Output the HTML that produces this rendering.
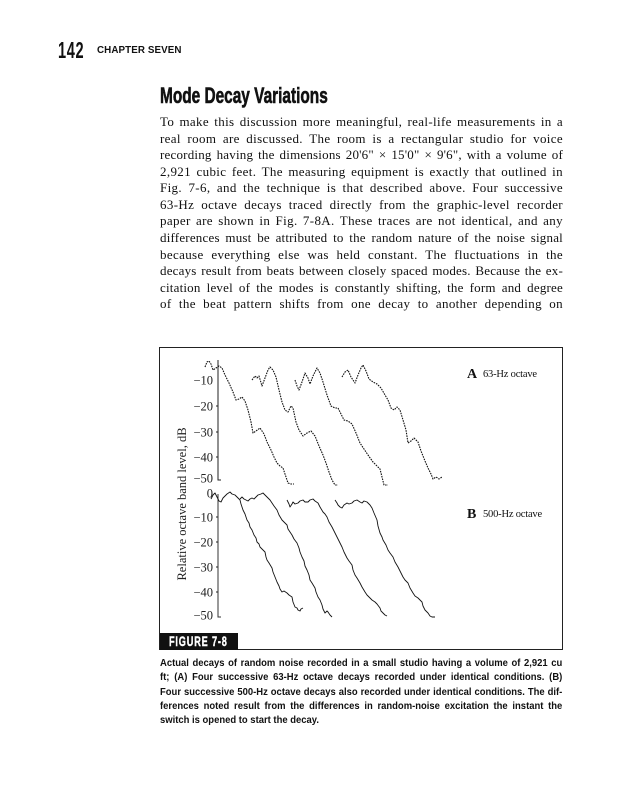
<!DOCTYPE html>
<html><head><meta charset="utf-8">
<style>
html,body{margin:0;padding:0;background:#fff;}
body{width:639px;height:800px;position:relative;overflow:hidden;}
.abs{position:absolute;}
.pn{left:58px;top:39px;font:bold 23.5px "Liberation Sans",sans-serif;transform:scaleX(0.62);transform-origin:0 0;letter-spacing:1px;color:#111;line-height:1;}
.ch{left:97px;top:46px;font:bold 9.8px "Liberation Sans",sans-serif;color:#111;line-height:1;letter-spacing:0.1px;}
.hd{left:160px;top:85.4px;font:bold 22px "Liberation Sans",sans-serif;line-height:22px;transform:scaleX(0.70);transform-origin:0 0;white-space:nowrap;color:#111;-webkit-text-stroke:0.6px #111;}
.body{left:160px;top:114.2px;width:403px;font:13px "Liberation Serif",serif;letter-spacing:0.35px;line-height:16.55px;color:#111;}
.body div{text-align:justify;text-align-last:justify;height:16.55px;}
.body div.t{letter-spacing:0.2px;}
.cap{left:160px;top:656.2px;width:447px;font:bold 10.5px "Liberation Sans",sans-serif;line-height:14.2px;color:#111;transform:scaleX(0.9);transform-origin:0 0;}
.cap div{text-align:justify;text-align-last:justify;height:14.2px;white-space:normal;}
.cap div.l{text-align-last:left;}
.box{left:159px;top:347px;width:402px;height:301px;border:1.5px solid #222;}
.fig{left:160px;top:633px;width:78px;height:17px;background:#111;}
.figt{left:169px;top:633.5px;font:bold 13.5px "Liberation Sans",sans-serif;color:#fff;line-height:16px;transform:scaleX(0.68);transform-origin:0 0;letter-spacing:1.2px;white-space:nowrap;-webkit-text-stroke:0.4px #fff;}
svg{position:absolute;left:0;top:0;}
</style></head><body>
<div class="abs pn">142</div>
<div class="abs ch">CHAPTER SEVEN</div>
<div class="abs hd">Mode Decay Variations</div>
<div class="abs body">
<div>To make this discussion more meaningful, real-life measurements in a</div>
<div>real room are discussed. The room is a rectangular studio for voice</div>
<div class="t">recording having the dimensions 20'6" × 15'0" × 9'6", with a volume of</div>
<div>2,921 cubic feet. The measuring equipment is exactly that outlined in</div>
<div>Fig. 7-6, and the technique is that described above. Four successive</div>
<div>63-Hz octave decays traced directly from the graphic-level recorder</div>
<div>paper are shown in Fig. 7-8A. These traces are not identical, and any</div>
<div class="t">differences must be attributed to the random nature of the noise signal</div>
<div>because everything else was held constant. The fluctuations in the</div>
<div class="t">decays result from beats between closely spaced modes. Because the ex-</div>
<div class="t">citation level of the modes is constantly shifting, the form and degree</div>
<div>of the beat pattern shifts from one decay to another depending on</div>
</div>

<div class="abs box"></div>
<div class="abs fig"></div>
<div class="abs figt">FIGURE 7-8</div>

<svg width="639" height="800" viewBox="0 0 639 800" xmlns="http://www.w3.org/2000/svg">
<g font-family="Liberation Serif, serif" font-size="12.5" fill="#222" text-anchor="end">
<text x="213" y="384.3">−10</text>
<text x="213" y="410.3">−20</text>
<text x="213" y="436.3">−30</text>
<text x="213" y="461.3">−40</text>
<text x="213" y="482.3">−50</text>
<text x="213" y="497.3">0</text>
<text x="213" y="521.3">−10</text>
<text x="213" y="546.3">−20</text>
<text x="213" y="571.3">−30</text>
<text x="213" y="596.3">−40</text>
<text x="213" y="619.3">−50</text>
</g>
<text transform="translate(186,504) rotate(-90)" font-family="Liberation Serif, serif" font-size="12.5" fill="#222" text-anchor="middle">Relative octave band level, dB</text>
<g font-family="Liberation Serif, serif" fill="#111">
<text x="467" y="378" font-size="14" font-weight="bold">A</text>
<text x="483" y="377" font-size="10.5" letter-spacing="-0.2">63-Hz octave</text>
<text x="467" y="518" font-size="14" font-weight="bold">B</text>
<text x="483" y="517" font-size="10.5" letter-spacing="-0.2">500-Hz octave</text>
</g>
<g stroke="#222" stroke-width="1" fill="none">
<path d="M218 360 V480 H221"/>
<path d="M216 406 H218 M216 432 H218 M216 457 H218"/>
<path d="M218 494 V617 H221" stroke="#333"/>
<path d="M216 517 H218 M216 542 H218 M216 567 H218 M216 592 H218"/>
</g>
<g stroke="#111" stroke-width="1.1" fill="none" stroke-dasharray="1.6,1" stroke-linejoin="round">
<polyline points="205,367 207,362 209,361 211,364 213,370 216,368 219,366 222,368 225,375 229,383 233,392 236,400 239,399 242,397 245,401 248,410 251,422 253,433 256,431 260,428 264,434 267,442 271,450 274,457 277,463 280,466 283,468 285,474 288,483 291,484 294,484"/>
<polyline points="252,380 255,376 257,378 259,376 262,386 265,378 268,370 270,367 273,370 276,377 279,390 282,402 285,410 288,412 291,406 293,408 296,422 299,430 303,436 307,433 311,431 315,436 319,446 323,455 326,463 329,472 332,480 335,485 338,485"/>
<polyline points="295,380 297,386 299,390 302,382 305,373 308,378 310,384 313,376 317,368 320,373 323,382 327,395 331,406 335,408 338,408 341,414 344,420 348,421 352,424 356,433 360,443 364,449 368,455 373,462 377,466 380,469 382,477 384,485 388,485"/>
<polyline points="342,377 345,372 348,370 351,377 355,383 358,375 361,368 363,365 366,371 369,379 373,382 377,384 381,388 385,395 388,400 391,408 394,410 397,407 400,410 403,420 406,430 408,443 411,441 414,438 418,442 421,451 425,461 428,468 431,474 433,479 436,477 439,479 442,477"/>
</g>
<g stroke="#111" stroke-width="0.9" fill="none" stroke-linejoin="round">
<polyline points="211,499 213,495 215,493 217,497 219,501 221,502 223,498 225,496 227,494 230,492 232,494 235,495 237,497 240,500 241,504 243,510 245,514 247,520 249,523 250,527 252,530 254,535 256,538 257,542 259,544 260,547 262,549 265,552 266,557 267,560 269,563 272,568 273,572 275,577 277,582 279,586 280,589 282,592 284,591 287,593 289,595 292,597 293,602 295,607 297,608 298,610 300,611 301,609 303,608"/>
<polyline points="240,499 242,497 244,499 246,500 248,501 250,499 252,498 254,499 256,497 258,495 261,494 263,493 265,495 267,497 270,500 272,503 274,506 277,510 279,515 282,520 284,522 287,525 288,529 290,532 292,535 294,539 297,543 299,548 300,552 302,557 304,561 305,566 307,570 309,575 310,580 312,583 315,588 316,592 318,597 320,600 322,605 323,609 325,613 327,611 328,612 330,615 332,617"/>
<polyline points="287,500 289,504 290,507 292,504 293,502 295,504 298,503 300,501 303,500 305,502 308,502 310,500 313,499 315,501 318,503 320,507 323,512 325,514 327,517 329,522 332,527 334,531 337,537 339,541 342,547 344,552 347,558 349,561 352,565 353,570 355,575 357,578 360,583 362,587 365,592 367,595 370,598 372,600 375,602 377,604 380,608 381,611 383,613 385,615 387,616"/>
<polyline points="335,500 337,503 338,505 340,507 342,508 344,505 347,503 349,504 352,503 354,501 357,500 360,502 362,503 364,501 367,502 370,505 372,508 374,513 377,520 378,526 380,533 382,537 383,540 386,545 388,550 390,553 393,557 395,562 398,567 400,571 403,577 405,580 408,583 410,588 413,593 415,596 418,598 420,600 422,602 423,606 425,610 427,612 428,613 430,616 432,617 435,617"/>
</g>
</svg>

<div class="abs cap">
<div>Actual decays of random noise recorded in a small studio having a volume of 2,921 cu</div>
<div>ft; (A) Four successive 63-Hz octave decays recorded under identical conditions. (B)</div>
<div>Four successive 500-Hz octave decays also recorded under identical conditions. The dif-</div>
<div>ferences noted result from the differences in random-noise excitation the instant the</div>
<div class="l">switch is opened to start the decay.</div>
</div>
</body></html>
